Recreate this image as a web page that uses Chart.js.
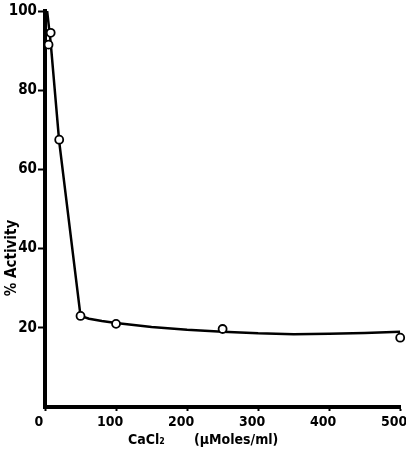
<!DOCTYPE html>
<html><head><meta charset="utf-8">
<script src="https://cdn.jsdelivr.net/npm/chart.js@4.4.1/dist/chart.umd.min.js"></script>
<style>html,body{margin:0;padding:0;background:#fff;} canvas{display:block;}</style>
</head><body>
<canvas id="c" width="406" height="452"></canvas>
<script>
const concentration = [5, 8, 20, 50, 100, 250, 500];
const activity = [91.5, 94.5, 67.5, 23, 21, 19.7, 17.5];
const curveX = [3, 8, 20, 50, 62, 80, 100, 150, 200, 250, 300, 350, 400, 450, 500];
const curveY = [100, 92, 67, 23, 22.3, 21.7, 21.2, 20.2, 19.5, 19.0, 18.6, 18.4, 18.5, 18.7, 19.0];
const xTicks = [0, 100, 200, 300, 400, 500];
const yTicks = [20, 40, 60, 80, 100];
const xTitle = 'CaCl₂';
const xUnit = '(μMoles/ml)';
const yTitle = '% Activity';

const FONT = '"Liberation Sans Narrow", "DejaVu Sans Condensed", sans-serif';
const TFONT = '"DejaVu Sans Condensed", "DejaVu Sans", sans-serif';

const titlePlugin = {
  id: 'axisTitles',
  afterDraw(chart) {
    const ctx = chart.ctx, a = chart.chartArea;
    ctx.save();
    ctx.fillStyle = '#000';
    ctx.font = 'bold 14px ' + TFONT;
    ctx.textBaseline = 'middle';
    ctx.textAlign = 'left';
    ctx.fillText(xTitle, a.left + 83, 440);
    ctx.fillText(xUnit, a.left + 149, 440);
    ctx.font = 'bold 15px ' + TFONT;
    ctx.translate(12, 258);
    ctx.rotate(-Math.PI / 2);
    ctx.textAlign = 'center';
    ctx.fillText(yTitle, 0, 0);
    ctx.restore();
  }
};

new Chart(document.getElementById('c'), {
  type: 'scatter',
  data: {
    datasets: [
      {
        type: 'line',
        data: curveX.map((x, i) => ({x, y: curveY[i]})),
        borderColor: '#000',
        borderWidth: 2.5,
        borderJoinStyle: 'round',
        pointRadius: 0,
        tension: 0,
        fill: false,
        order: 2
      },
      {
        data: concentration.map((x, i) => ({x, y: activity[i]})),
        showLine: false,
        pointRadius: 4,
        pointBorderWidth: 1.8,
        pointBorderColor: '#000',
        pointBackgroundColor: '#fff',
        clip: false,
        order: 1
      }
    ]
  },
  options: {
    responsive: false,
    devicePixelRatio: 1,
    animation: false,
    layout: { padding: { top: 11, right: 3, left: 0, bottom: 0 } },
    plugins: { legend: { display: false }, tooltip: { enabled: false } },
    scales: {
      x: {
        type: 'linear', min: 0, max: 500,
        afterBuildTicks: s => { s.ticks = xTicks.map(v => ({value: v})); },
        afterFit: s => { s.height = 45; s.paddingLeft = 0; s.paddingRight = 0; },
        grid: { display: true, drawOnChartArea: false, drawTicks: true, tickLength: 4, tickColor: '#000', tickWidth: 2 },
        border: { display: true, color: '#000', width: 4 },
        ticks: { color: '#000', padding: 3, labelOffset: -6, maxRotation: 0, font: { family: FONT, size: 14, weight: 'bold' } }
      },
      y: {
        type: 'linear', min: 0, max: 100,
        afterBuildTicks: s => { s.ticks = yTicks.map(v => ({value: v})); },
        afterFit: s => { s.width = 45; s.paddingTop = 0; s.paddingBottom = 0; },
        grid: { display: true, drawOnChartArea: false, drawTicks: true, tickLength: 7, tickColor: '#000', tickWidth: 2 },
        border: { display: true, color: '#000', width: 4 },
        ticks: { color: '#000', padding: 1, font: { family: FONT, size: 15, weight: 'bold' } }
      }
    }
  },
  plugins: [titlePlugin]
});
</script>
</body></html>
